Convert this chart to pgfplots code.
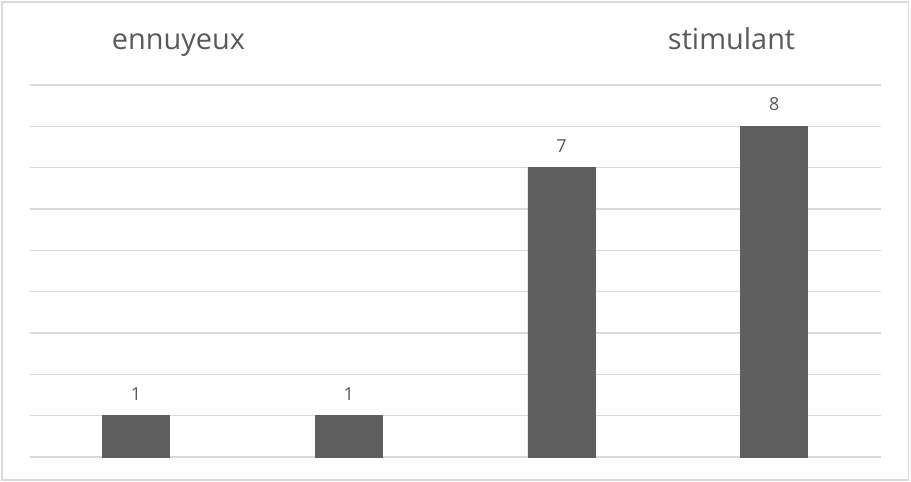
\documentclass[border=0pt]{standalone}
\usepackage{fontspec}
\setmainfont{Open Sans}
\usepackage{pgfplots}
\pgfplotsset{compat=1.18}
\definecolor{barc}{HTML}{5F5F5F}
\definecolor{gridc}{HTML}{D9D9D9}
\definecolor{txtc}{HTML}{595959}
\begin{document}
\begin{tikzpicture}[x=1bp,y=1bp]
\path (0,0) rectangle (911,482);
\draw[gridc, line width=1.6bp] (2,2) rectangle (908.5,480);
\begin{axis}[
  at={(29.5bp,25bp)}, anchor=south west,
  scale only axis, width=851bp, height=372bp,
  xmin=-0.5, xmax=3.5, ymin=0, ymax=9,
  xtick=\empty, ytick={0,1,...,9}, yticklabels={},
  ymajorgrids, major grid style={gridc, line width=1.3bp},
  axis line style={draw=none}, tick style={draw=none},
  clip=false,
  /pgf/number format/assume math mode=true,
  ybar, bar width=67bp,
  nodes near coords,
  every node near coord/.append style={font=\fontsize{18}{21}\selectfont, text=txtc, anchor=base, yshift=15.5bp, inner sep=0pt},
]
\addplot[fill=barc, draw=barc] coordinates {(0,1) (1,1) (2,7) (3,8)};
\node[anchor=base, inner sep=0pt, text=txtc, font=\fontsize{29}{34}\selectfont] at (axis cs:0.2,9.86) {ennuyeux};
\node[anchor=base, inner sep=0pt, text=txtc, font=\fontsize{29}{34}\selectfont] at (axis cs:2.8,9.86) {stimulant};
\end{axis}
\end{tikzpicture}
\end{document}
